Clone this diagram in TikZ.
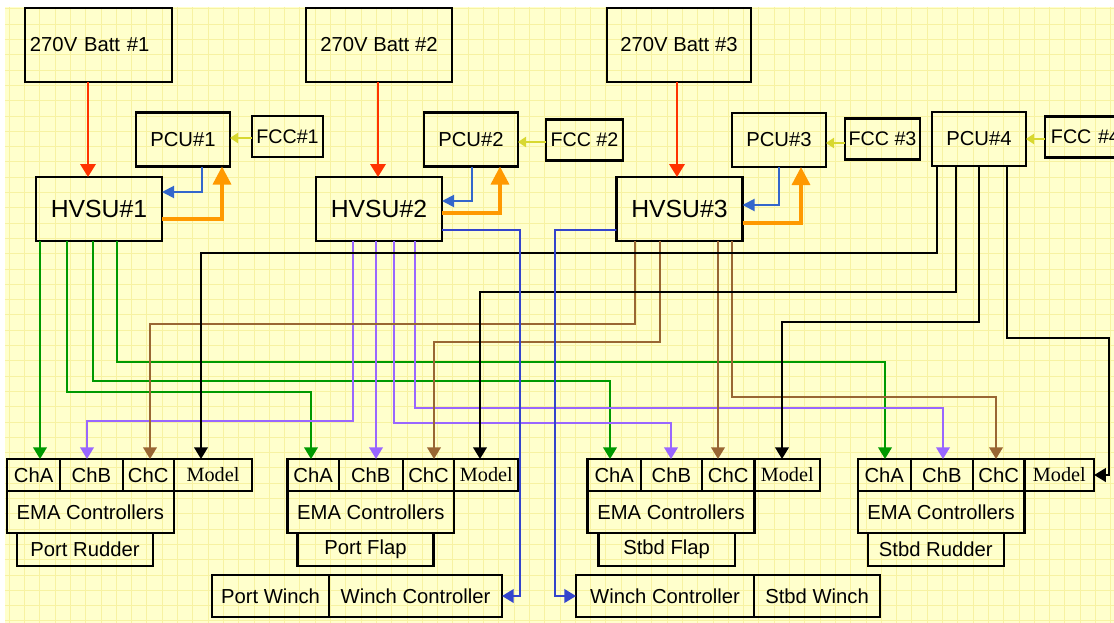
\documentclass[tikz,border=0pt]{standalone}
\usepackage{fontspec}
\setmainfont{Liberation Sans}
\newfontfamily\modelfont{Liberation Serif}
\usepackage{xcolor}
\usetikzlibrary{arrows.meta, positioning}

\definecolor{paper}{HTML}{FFFFCC}
\definecolor{gridyel}{HTML}{F7F2A2}
\definecolor{battred}{HTML}{FF3300}
\definecolor{pwrorange}{HTML}{FF9900}
\definecolor{ctlblue}{HTML}{3366CC}
\definecolor{winchblue}{HTML}{3344CC}
\definecolor{fccyellow}{HTML}{D8D830}
\definecolor{chagreen}{HTML}{009900}
\definecolor{chbpurple}{HTML}{9966FF}
\definecolor{chcbrown}{HTML}{996633}

\begin{document}
\begin{tikzpicture}[
  x=0.025cm, y=-0.025cm,
  box/.style={draw, line width=1.6pt, outer sep=0pt, inner sep=1pt,
              font=\fontsize{14.4}{16}\selectfont, align=center},
  battbox/.style={box, minimum height=1.85cm},
  hvsubox/.style={box, minimum width=3.15cm, minimum height=1.6cm,
                  font=\fontsize{17.6}{20}\selectfont},
  pcubox/.style={box, minimum width=2.35cm, minimum height=1.35cm,
                 font=\fontsize{14.4}{16}\selectfont},
  fccbox/.style={box, minimum height=1.03cm, font=\fontsize{14}{16}\selectfont},
  cell/.style={box, minimum height=0.8cm},
  modelcell/.style={cell, font=\modelfont\fontsize{14.4}{16}\selectfont},
  emabox/.style={box, minimum width=4.17cm, minimum height=1.05cm},
  namebox/.style={box, minimum width=3.4cm, minimum height=0.825cm},
  winchbox/.style={box, minimum height=1.05cm},
  gridline/.style={draw=gridyel, line width=0.6pt},
  wire/.style={line width=1.2pt, -{Triangle[length=0.29cm, width=0.34cm]}},
  battarr/.style={battred, line width=1.6pt, -{Triangle[length=0.32cm, width=0.38cm]}},
  pwrarr/.style={pwrorange, line width=2.4pt, -{Triangle[length=0.45cm, width=0.45cm]}},
  ctlarr/.style={ctlblue, line width=1.4pt, -{Triangle[length=0.3cm, width=0.3cm]}},
  fccarr/.style={fccyellow, line width=2pt, -{Triangle[length=0.2cm, width=0.25cm]}},
  garr/.style={wire, chagreen},
  parr/.style={wire, chbpurple},
  carr/.style={wire, chcbrown},
  marr/.style={wire, black},
  wincharr/.style={wire, winchblue, line width=1.4pt},
]
\useasboundingbox (0,0) rectangle (1114,623);
\clip (0,0) rectangle (1114,623);

% paper and grid
\fill[white] (0,0) rectangle (1114,623);
\fill[paper] (5,7) rectangle (1114,623);
\foreach \gx in {9.2,24.5,...,1114} \draw[gridline] (\gx,7) -- (\gx,623);
\foreach \gy in {8.9,24.2,...,623} \draw[gridline] (5,\gy) -- (1114,\gy);

% batteries, power units, flight computers
\node[battbox, text width=3.425cm, inner xsep=0.125cm, align=left] (b1) at (98.5,45) {270V Batt \#1};
\node[battbox, minimum width=3.65cm] (b2) at (379,45) {270V Batt \#2};
\node[battbox, minimum width=3.6cm]  (b3) at (679,45) {270V Batt \#3};

\node[pcubox] (p1) at (183,139.5) {PCU\#1};
\node[fccbox, minimum width=1.775cm] (f1) at (287.5,136.5) {FCC\#1};
\node[pcubox] (p2) at (471,139.5) {PCU\#2};
\node[fccbox, minimum width=1.925cm] (f2) at (584.5,140) {FCC \#2};
\node[pcubox] (p3) at (779,140) {PCU\#3};
\node[fccbox, minimum width=1.875cm] (f3) at (882.5,139) {FCC \#3};
\node[pcubox] (p4) at (979,139) {PCU\#4};
\node[fccbox, text width=2.2cm, inner xsep=0.15cm, align=left] (f4) at (1095,137) {FCC \#4};

\node[hvsubox] (hv1) at (99,209)    {HVSU\#1};
\node[hvsubox] (hv2) at (379,209)   {HVSU\#2};
\node[hvsubox] (hv3) at (679.5,209) {HVSU\#3};

% EMA controller groups
\node[cell, anchor=north west, minimum width=1.33cm] (pr-a) at (7,459) {ChA};
\node[cell, right=0pt of pr-a, minimum width=1.56cm] (pr-b) {ChB};
\node[cell, right=0pt of pr-b, minimum width=1.28cm] (pr-c) {ChC};
\node[modelcell, right=0pt of pr-c, minimum width=1.96cm] (pr-m) {Model};
\node[emabox, below right=0pt and 0pt of pr-a.south west] (pr-ema) {EMA Controllers};
\node[namebox, below right=0pt and 0.25cm of pr-ema.south west] (pr-name) {Port Rudder};

\node[cell, anchor=north west, minimum width=1.28cm] (pf-a) at (287.5,459) {ChA};
\node[cell, right=0pt of pf-a, minimum width=1.6cm] (pf-b) {ChB};
\node[cell, right=0pt of pf-b, minimum width=1.29cm] (pf-c) {ChC};
\node[modelcell, right=0pt of pf-c, minimum width=1.6cm] (pf-m) {Model};
\node[emabox, below right=0pt and 0pt of pf-a.south west] (pf-ema) {EMA Controllers};
\node[namebox, below right=0pt and 0.25cm of pf-ema.south west] (pf-name) {Port Flap};

\node[cell, anchor=north west, minimum width=1.33cm] (sf-a) at (587.6,459) {ChA};
\node[cell, right=0pt of sf-a, minimum width=1.53cm] (sf-b) {ChB};
\node[cell, right=0pt of sf-b, minimum width=1.31cm] (sf-c) {ChC};
\node[modelcell, right=0pt of sf-c, minimum width=1.64cm] (sf-m) {Model};
\node[emabox, below right=0pt and 0pt of sf-a.south west] (sf-ema) {EMA Controllers};
\node[namebox, below right=0pt and 0.275cm of sf-ema.south west] (sf-name) {Stbd Flap};

\node[cell, anchor=north west, minimum width=1.33cm] (sr-a) at (857.7,459) {ChA};
\node[cell, right=0pt of sr-a, minimum width=1.55cm] (sr-b) {ChB};
\node[cell, right=0pt of sr-b, minimum width=1.29cm] (sr-c) {ChC};
\node[modelcell, right=0pt of sr-c, minimum width=1.74cm] (sr-m) {Model};
\node[emabox, below right=0pt and 0pt of sr-a.south west] (sr-ema) {EMA Controllers};
\node[namebox, below right=0pt and 0.25cm of sr-ema.south west] (sr-name) {Stbd Rudder};

% winches
\node[winchbox, anchor=north west, minimum width=2.925cm] (pw-name) at (212,575) {Port Winch};
\node[winchbox, right=0pt of pw-name, minimum width=4.325cm] (pw-ctl) {Winch Controller};
\node[winchbox, anchor=north west, minimum width=4.45cm] (sw-ctl) at (576,575) {Winch Controller};
\node[winchbox, right=0pt of sw-ctl, minimum width=3.15cm] (sw-name) {Stbd Winch};

% power feeds
\draw[battarr] (b1.south -| 88,0)  -- (hv1.north -| 88,0);
\draw[battarr] (b2.south -| 378,0) -- (hv2.north -| 378,0);
\draw[battarr] (b3.south -| 677,0) -- (hv3.north -| 677,0);

\draw[fccarr] (f1.west |- 0,138) -- (p1.east |- 0,138);
\draw[fccarr] (f2.west |- 0,142) -- (p2.east |- 0,142);
\draw[fccarr] (f3.west |- 0,143) -- (p3.east |- 0,143);
\draw[fccarr] (f4.west |- 0,139) -- (p4.east |- 0,139);

\draw[ctlarr] (p1.south -| 202,0) |- (hv1.east |- 0,192);
\draw[ctlarr] (p2.south -| 472,0) |- (hv2.east |- 0,201);
\draw[ctlarr] (p3.south -| 779,0) |- (hv3.east |- 0,205);

\draw[pwrarr] (hv1.east |- 0,219) -| (p1.south -| 222,0);
\draw[pwrarr] (hv2.east |- 0,213) -| (p2.south -| 500,0);
\draw[pwrarr] (hv3.east |- 0,223) -| (p3.south -| 801,0);

% channel A
\draw[garr] (hv1.south -| 40,0) -- (pr-a.north -| 40,0);
\draw[garr] (hv1.south -| 67,0) |- (311,392) -- (pf-a.north -| 311,0);
\draw[garr] (hv1.south -| 93,0) |- (610,381) -- (sf-a.north -| 610,0);
\draw[garr] (hv1.south -| 117,0) |- (885,362) -- (sr-a.north -| 885,0);

% channel B
\draw[parr] (hv2.south -| 353,0) |- (87,421) -- (pr-b.north -| 87,0);
\draw[parr] (hv2.south -| 376,0) -- (pf-b.north -| 376,0);
\draw[parr] (hv2.south -| 394,0) |- (671,423) -- (sf-b.north -| 671,0);
\draw[parr] (hv2.south -| 415,0) |- (943,408) -- (sr-b.north -| 943,0);

% channel C
\draw[carr] (hv3.south -| 635,0) |- (150,324) -- (pr-c.north -| 150,0);
\draw[carr] (hv3.south -| 660,0) |- (434,342) -- (pf-c.north -| 434,0);
\draw[carr] (hv3.south -| 718,0) -- (sf-c.north -| 718,0);
\draw[carr] (hv3.south -| 732,0) |- (996,397) -- (sr-c.north -| 996,0);

% models
\draw[marr] (p4.south -| 937,0)  |- (201,253) -- (pr-m.north -| 201,0);
\draw[marr] (p4.south -| 956,0)  |- (480,292) -- (pf-m.north -| 480,0);
\draw[marr] (p4.south -| 979,0)  |- (782,322) -- (sf-m.north -| 782,0);
\draw[marr] (p4.south -| 1007,0) |- (1109,338) |- (sr-m.east);

% winch controllers
\draw[wincharr] (hv2.east |- 0,230) -| (520,596) -- (pw-ctl.east);
\draw[wincharr] (hv3.west |- 0,230) -| (555,596) -- (sw-ctl.west);
\end{tikzpicture}
\end{document}
